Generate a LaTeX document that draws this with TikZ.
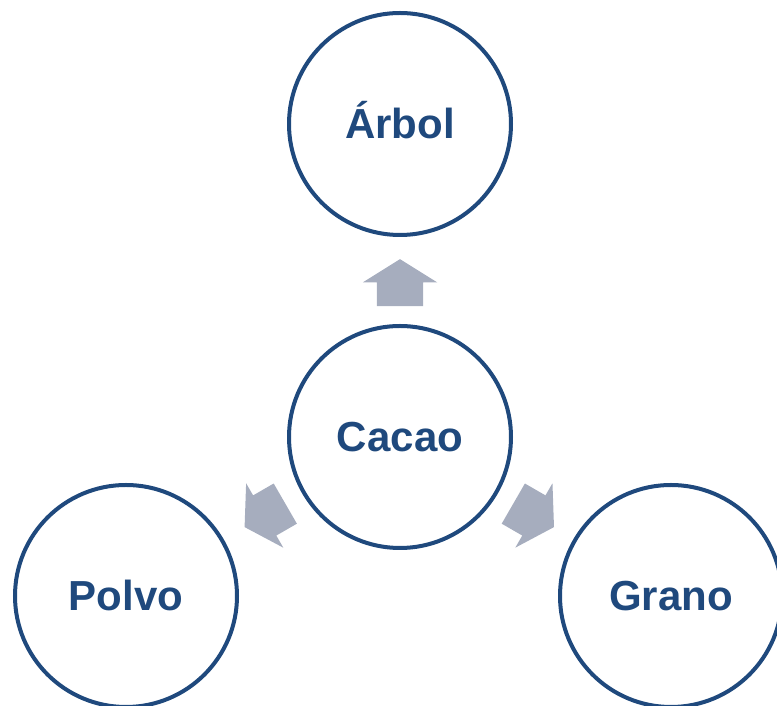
\documentclass[tikz,border=0pt]{standalone}
\usepackage{fontspec}
\setmainfont{Liberation Sans}
\usetikzlibrary{shapes.arrows, calc}
\definecolor{cacaoblue}{RGB}{31,73,125}
\definecolor{arrowgray}{RGB}{166,173,190}

\begin{document}
\begin{tikzpicture}[x=1pt, y=1pt,
        bubble/.style={circle, draw=cacaoblue, line width=4pt, minimum size=222pt, inner sep=0pt,
            font=\fontsize{42}{50}\selectfont\bfseries, text=cacaoblue, text height=30pt, text depth=0pt},
        blockarrow/.style={single arrow, fill=arrowgray, draw=none, minimum height=47pt, inner sep=0pt,
            text height=46pt, text depth=0pt, single arrow head extend=14pt, single arrow tip angle=116}]
        \useasboundingbox (0,0) rectangle (777,706);
        % centre and the three products
        \node[bubble] (cacao) at (400,269) {Cacao};
        \node[bubble] (arbol) at (400,582) {Árbol};
        \node[bubble] (polvo) at (126,110) {Polvo};
        \node[bubble] (grano) at (671,110) {Grano};
        % block arrows
        \node[blockarrow, rotate=90] (toarbol) at ($(cacao)!0.47!(arbol)$) {};
        \node[blockarrow, rotate=210] (topolvo) at ($(cacao)!0.47!(polvo)$) {};
        \node[blockarrow, rotate=330] (tograno) at ($(cacao)!0.47!(grano)$) {};
    \end{tikzpicture}
\end{document}
